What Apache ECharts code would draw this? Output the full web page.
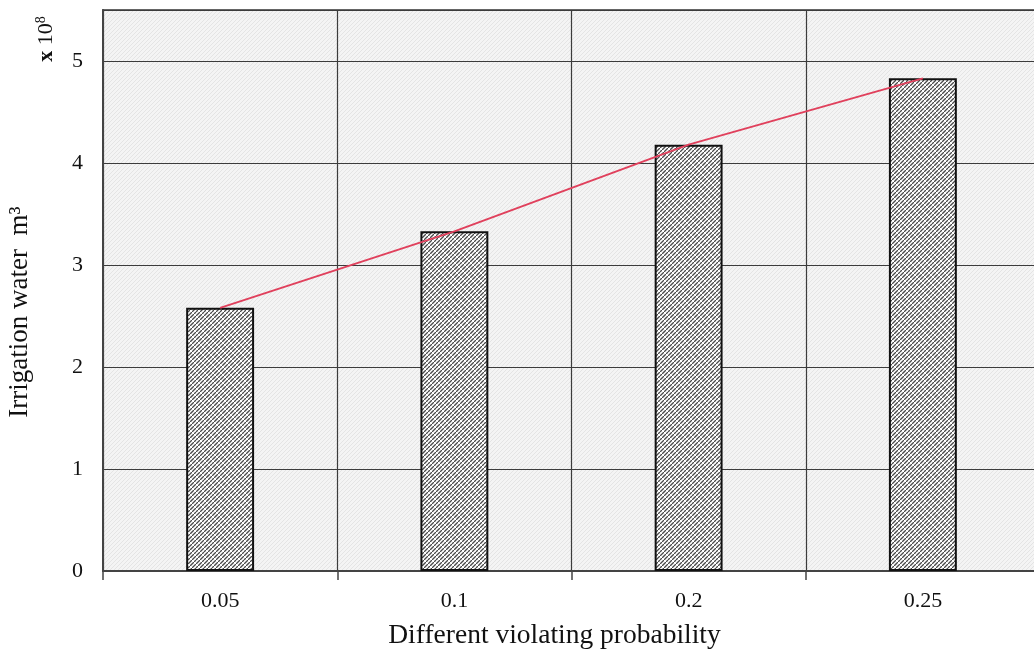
<!DOCTYPE html>
<html>
<head>
<meta charset="utf-8">
<script src="https://cdn.jsdelivr.net/npm/echarts@6/dist/echarts.min.js"></script>
<style>
  html, body { margin: 0; padding: 0; background: #fff; }
  #chart { width: 1034px; height: 650px; }
</style>
</head>
<body>
<div id="chart"></div>
<script>
// Violating probabilities and the irrigation water allocated (x 10^8 m3)
const categories = ['0.05', '0.1', '0.2', '0.25'];
const irrigationWater = [2.58, 3.33, 4.18, 4.83];

// Woven hatch used to fill the bars
function barPattern() {
  const c = document.createElement('canvas');
  c.width = 8; c.height = 8;
  const g = c.getContext('2d');
  g.fillStyle = '#ffffff';
  g.fillRect(0, 0, 8, 8);
  g.strokeStyle = '#4a4a4a';
  g.lineWidth = 1.3;
  g.beginPath();
  for (let k = -8; k <= 16; k += 4) {
    g.moveTo(k, 8);
    g.lineTo(k + 8, 0);
  }
  g.stroke();
  g.strokeStyle = '#ffffff';
  g.lineWidth = 1;
  g.beginPath();
  for (let k = -8; k <= 16; k += 8) {
    g.moveTo(k, 0);
    g.lineTo(k + 8, 8);
  }
  g.stroke();
  return c;
}

// Faint diagonal texture for the plotting area
function backPattern() {
  const c = document.createElement('canvas');
  c.width = 4; c.height = 4;
  const g = c.getContext('2d');
  g.fillStyle = '#f4f4f4';
  g.fillRect(0, 0, 4, 4);
  g.strokeStyle = '#e4e4e4';
  g.lineWidth = 1;
  g.beginPath();
  g.moveTo(0, 4); g.lineTo(4, 0);
  g.stroke();
  return c;
}

const serif = '"Liberation Serif", "DejaVu Serif", serif';
const chart = echarts.init(document.getElementById('chart'));

chart.setOption({
  animation: false,
  backgroundColor: '#ffffff',
  grid: {
    left: 103, top: 10, width: 937, height: 561,
    outerBoundsMode: 'none',
    containLabel: false,
    show: true,
    backgroundColor: { image: backPattern(), repeat: 'repeat' },
    borderColor: '#333', borderWidth: 1.5
  },
  xAxis: {
    type: 'category',
    data: categories,
    boundaryGap: true,
    name: 'Different violating probability',
    nameLocation: 'middle',
    nameGap: 51,
    nameTextStyle: { fontFamily: serif, fontSize: 27.5, color: '#111', padding: [0, 34, 0, 0] },
    axisLine: { lineStyle: { color: '#444', width: 2 } },
    axisTick: { show: true, length: 9, lineStyle: { color: '#444', width: 1.5 } },
    axisLabel: { fontFamily: serif, fontSize: 22, color: '#111', margin: 19 },
    splitLine: { show: true, lineStyle: { color: '#3c3c3c', width: 1.2 } }
  },
  yAxis: {
    type: 'value',
    min: 0, max: 5.5, interval: 1,
    axisLine: { show: true, lineStyle: { color: '#444', width: 2 } },
    axisTick: { show: false },
    axisLabel: {
      fontFamily: serif, fontSize: 22, color: '#111', margin: 20,
      formatter: v => (Number.isInteger(v) ? String(v) : '')
    },
    splitLine: { show: true, lineStyle: { color: '#3c3c3c', width: 1.2 } }
  },
  graphic: [{
    // rotated y-axis title
    type: 'text',
    x: 20, y: 312,
    rotation: Math.PI / 2,
    style: {
      text: 'Irrigation water  m\u00B3',
      font: '27px ' + serif,
      fill: '#111',
      align: 'center',
      verticalAlign: 'middle'
    }
  }, {
    // unit multiplier above the axis
    type: 'text',
    x: 46, y: 39,
    rotation: Math.PI / 2,
    style: {
      text: '{b|x} 10{s|8}',
      font: '22px ' + serif,
      fill: '#111',
      align: 'center',
      verticalAlign: 'middle',
      rich: {
        b: { font: 'bold 22px ' + serif, fill: '#111' },
        s: { font: '14px ' + serif, fill: '#111', verticalAlign: 'top', padding: [0, 0, 9, 0] }
      }
    }
  }],
  series: [{
    type: 'bar',
    data: irrigationWater,
    barWidth: '29%',
    itemStyle: {
      color: { image: barPattern(), repeat: 'repeat' },
      borderColor: '#111',
      borderWidth: 2
    },
    z: 2
  }, {
    type: 'line',
    data: irrigationWater,
    symbol: 'none',
    lineStyle: { color: '#e0405c', width: 2 },
    z: 3
  }]
});
</script>
</body>
</html>
